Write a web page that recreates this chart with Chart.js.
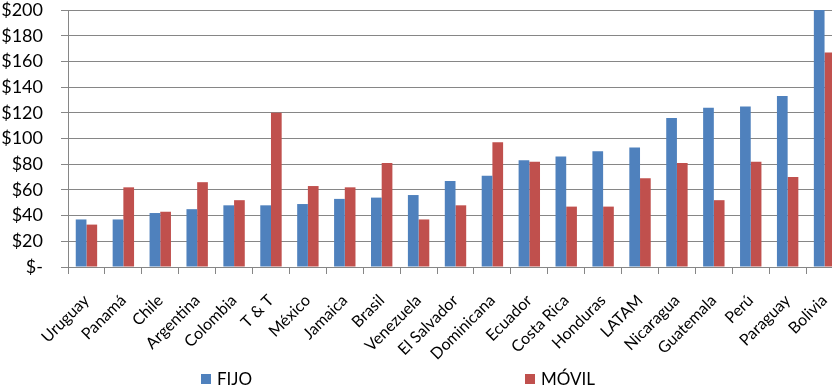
<!DOCTYPE html>
<html>
<head>
<meta charset="utf-8">
<script src="https://cdn.jsdelivr.net/npm/chart.js@4/dist/chart.umd.min.js"></script>
<style>
  body { margin: 0; overflow: hidden; background: #fff; }
  #wrap { position: relative; width: 843px; height: 386px; }
  .legend-item {
    position: absolute; top: 369px;
    font: 17px Lato, sans-serif; line-height: 20px; color: #000;
    display: flex; align-items: center;
  }
  .swatch { width: 10px; height: 10px; margin-right: 6px; }
</style>
</head>
<body>
<div id="wrap">
  <canvas id="barChart"></canvas>
</div>
<script>
// countries, ordered as in the source chart
const countries = ['Uruguay', 'Panamá', 'Chile', 'Argentina', 'Colombia', 'T & T', 'México', 'Jamaica', 'Brasil', 'Venezuela',
    'El Salvador', 'Dominicana', 'Ecuador', 'Costa Rica', 'Honduras', 'LATAM', 'Nicaragua', 'Guatemala', 'Perú', 'Paraguay', 'Bolivia'];
const fijo = [37, 37, 42, 45, 48, 48, 49, 53, 54, 56, 67, 71, 83, 86, 90, 93, 116, 124, 125, 133, 200];
const movil = [33, 62, 43, 66, 52, 120, 63, 62, 81, 37, 48, 97, 82, 47, 47, 69, 81, 52, 82, 70, 167];
const yTicks = [0, 20, 40, 60, 80, 100, 120, 140, 160, 180, 200];

const gridGray = '#868686';

const chart = new Chart(document.getElementById('barChart'), {
    type: 'bar',
    data: {
        labels: countries,
        datasets: [{
            label: 'FIJO',
            data: fijo,
            backgroundColor: '#4F81BD',
            categoryPercentage: 0.58,
            barPercentage: 1.0
        }, {
            label: 'MÓVIL',
            data: movil,
            backgroundColor: '#C0504D',
            categoryPercentage: 0.58,
            barPercentage: 1.0
        }]
    },
    options: {
        responsive: true,
        maintainAspectRatio: false,
        animation: false,
        layout: { padding: { top: 0, right: 0, bottom: 19, left: 0 } },
        plugins: {
            legend: { display: false },
            tooltip: { enabled: false }
        },
        scales: {
            x: {
                grid: { drawOnChartArea: false, offset: true, tickLength: 7, color: gridGray },
                border: { color: gridGray },
                ticks: { font: { family: 'Lato', size: 16 }, color: '#000', minRotation: 45, maxRotation: 45, autoSkip: false, padding: 17 },
                // the last country runs off the right edge, like the original
                afterFit: scale => {
                    scale.height = 100;
                    scale.paddingLeft = 0;
                    scale.paddingRight = 0;
                }
            },
            y: {
                min: yTicks[0],
                max: yTicks[yTicks.length - 1],
                afterBuildTicks: scale => { scale.ticks = yTicks.map(v => ({ value: v })); },
                grid: { color: gridGray, tickLength: 7 },
                border: { color: gridGray },
                ticks: {
                    font: { family: 'Lato', size: 18 },
                    color: '#000',
                    padding: 18,
                    callback: v => v === 0 ? '$-' : '$' + v
                },
                // fixed axis width; ticks.padding would otherwise push the plot down
                afterFit: scale => {
                    scale.width = 68;
                    scale.paddingTop = 10;
                    scale.paddingBottom = 10;
                }
            }
        }
    }
});

// legend built from the datasets, spaced like the original
const legendX = [201, 525];
chart.data.datasets.forEach((ds, i) => {
    const item = document.createElement('div');
    item.className = 'legend-item';
    item.style.left = legendX[i] + 'px';
    const sw = document.createElement('span');
    sw.className = 'swatch';
    sw.style.background = ds.backgroundColor;
    item.appendChild(sw);
    item.appendChild(document.createTextNode(ds.label));
    document.getElementById('wrap').appendChild(item);
});
</script>
</body>
</html>
